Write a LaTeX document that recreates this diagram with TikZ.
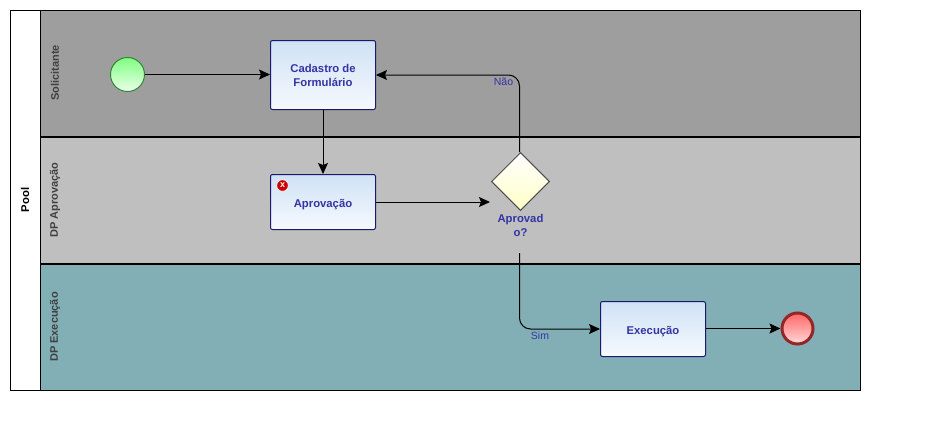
\documentclass[tikz,border=0pt]{standalone}
\usepackage{fontspec}
\setmainfont{Liberation Sans}
\usetikzlibrary{arrows.meta,positioning,shapes.geometric}
\definecolor{taskcolor}{RGB}{52, 52, 165}
\definecolor{taskline}{RGB}{25, 25, 110}
\definecolor{tasktop}{RGB}{207, 226, 245}
\definecolor{taskbottom}{RGB}{246, 249, 254}
\definecolor{lanetext}{RGB}{64, 64, 64}
\newcommand{\tasklabel}[1]{\raisebox{-1.2pt}[\height][0pt]{#1}}

\begin{document}
\begin{tikzpicture}[x=1pt,y=-1pt,on grid,>={Stealth[length=11pt,width=10pt,inset=2pt]},
  line width=1pt,
  every node/.style={font=\fontsize{11.3}{14}\selectfont\bfseries},
  lane/.style={minimum width=819.5pt,anchor=north west,inner sep=0pt},
  lanetitle/.style={rotate=90,text=lanetext,font=\fontsize{11}{14}\selectfont\bfseries},
  task/.style={draw=taskline,rounded corners=2pt,top color=tasktop,bottom color=taskbottom,
    text=taskcolor,align=center,minimum width=105pt,inner sep=0pt},
  flowtext/.style={font=\fontsize{10.5}{12}\selectfont,text=taskcolor}]
  \useasboundingbox (0,0) rectangle (948,424);

  \node[lane, fill=black!38, minimum height=127pt] (solicitante) at (40,10) {};
  \node[lane, fill=black!25, minimum height=127pt] (aprovacao) at (40,137) {};
  \node[lane, fill={rgb,255:red,130;green,175;blue,181}, minimum height=125.5pt] (execucao) at (40,264) {};
  \node[draw=black, fill=white, minimum width=30pt, minimum height=379.5pt, inner sep=0pt, anchor=north west] (pool) at (10,10) {};
  \draw[black] (pool.north west) rectangle (execucao.south east);
  \draw[black, line width=2.4pt] (aprovacao.north west) -- (aprovacao.north east);
  \draw[black, line width=2.4pt] (execucao.north west) -- (execucao.north east);

  \node[rotate=90] (pooltitle) at (25,200) {Pool};
  \node[lanetitle] (t1) at (55,73) {Solicitante};
  \node[lanetitle] (t2) at (55,200) {DP Aprovação};
  \node[lanetitle] (t3) at (55,327) {DP Execução};

  \node[circle, draw=green!40!black!80, top color=green!50!white, bottom color=green!8, minimum size=34pt, inner sep=0pt] (start) at (127.5,74.5) {};
  \node[task, minimum height=69pt] (cadastro) at (323,75) {Cadastro de\\Formulário};
  \node[task, minimum height=55pt] (aprov) at (323,202) {\tasklabel{Aprovação}};
  \node[diamond, draw=black!70, top color=white, bottom color=yellow!22, minimum size=58pt, inner sep=0pt] (gate) at (520.5,181.5) {};
  \node[text=taskcolor, align=center] (gatetext) at (520.5,225) {Aprovad\\o?};
  \node[task, minimum height=55pt] (exec) at (653,329) {\tasklabel{Execução}};
  \node[circle, draw=red!50!black!85, line width=3pt, top color=red!60!white, bottom color=red!15, minimum size=31pt, inner sep=0pt] (end) at (797.5,328.5) {};

  \node[circle, draw=white, line width=.6pt, fill=red!80!black, minimum size=11.5pt, inner sep=0pt, text=white, font=\fontsize{9}{9}\selectfont\bfseries] (erro) at (282.5,185.5) {x};

  \coordinate (gatein) at (490,202);
  \coordinate (gateup) at (519.5,152);
  \coordinate (gatedown) at (519.5,253);

  \draw[->] (start.east) -- (start.east -| cadastro.west);
  \path[->] (cadastro) edge (aprov);
  \path[->] (aprov.east) edge (gatein);
  \draw[->, rounded corners=11pt] (gateup) |- (cadastro.east);
  \draw[->, rounded corners=11pt] (gatedown) |- (exec.west);
  \draw[->] (exec.east |- end.west) -- (end.west);

  \node[flowtext] (nao) at (503.5,82) {Não};
  \node[flowtext] (sim) at (540,336) {Sim};
\end{tikzpicture}
\end{document}
